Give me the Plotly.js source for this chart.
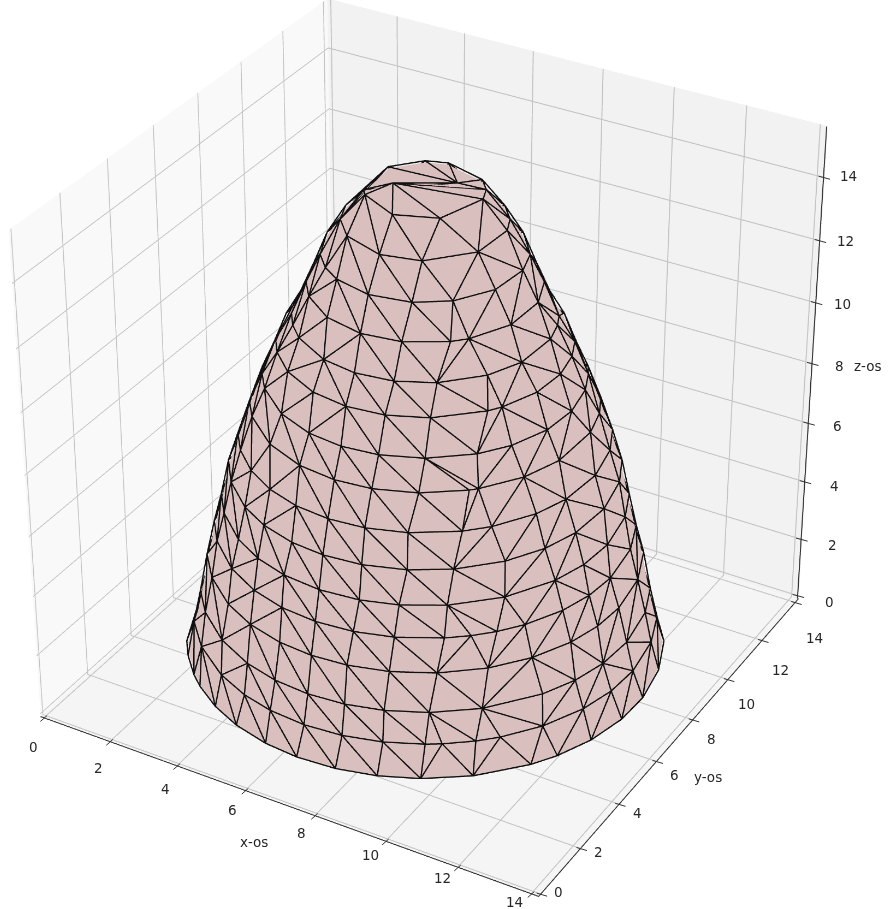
<!DOCTYPE html>
<html><head><meta charset="utf-8">
<script src="https://cdn.plot.ly/plotly-3.0.1.min.js"></script>
<style>html,body{margin:0;padding:0;background:#fff;width:888px;height:909px;overflow:hidden;position:relative}
#chart{position:absolute;left:-1126px;top:-1165px;width:3108px;height:3182px}</style>
</head><body><div id="chart"></div>
<script>
// Surface: one height and radius per ring, with the bearing of its
// vertices in degrees (0 = facing the viewer, positive = to the viewer's right).
const centreX = 7, centreY = 7;
const ringHeights = [0.68,1.68,2.58,3.73,4.71,5.62,6.62,7.62,8.67,9.53,10.55,11.36,12.35,13.35,14.3,15.2,15.4];
const ringRadii   = [6.08,5.88,5.68,5.48,5.27,5.07,4.87,4.61,4.3,3.97,3.62,3.22,2.85,2.5,2.0,1.42,0.73];
const ring00 = [-87,-81,-73,-68,-59,-50,-40,-31,-21,-11,-1,11,25,32,42,53,63,75,87];
const ring01 = [-83,-72,-59,-49,-40,-30,-20,-10,0,4,12,18,29,41,51,61,74,85];
const ring02 = [-85,-75,-62,-50,-40,-30,-20,-10,1,14,30,40,50,61,75,86];
const ring03 = [-86,-75,-62,-51,-40,-30,-20,-9,3,16,28,40,50,60,74,87];
const ring04 = [-88,-78,-64,-52,-41,-30,-19,-8,5,12,19,27,39,49,59,74,86];
const ring05 = [-88,-78,-64,-53,-42,-30,-18,-7,6,22,38,49,61,76,88];
const ring06 = [-90,-78,-64,-53,-41,-30,-18,-5,8,23,36,48,63,78,90];
const ring07 = [-88,-78,-66,-54,-42,-30,-18,-5,11,20,35,47,63,78,90];
const ring08 = [-88,-78,-60,-44,-30,-17,-2,14,17,33,48,68,80,90];
const ring09 = [-88,-78,-60,-44,-30,-16,0,18,31,47,62,77,88];
const ring10 = [-90,-80,-65,-47,-31,-15,2,24,30,47,63,77,88];
const ring11 = [-90,-80,-69,-48,-31,-13,5,27,45,68,80,88];
const ring12 = [-90,-76,-54,-32,-11,12,21,45,70,90];
const ring13 = [-85,-70,-56,-32,-7,15,41,67,85];
const ring14 = [-90,-66,-32,-2,38,74,90];
const ring15 = [-90,-80,-32,14,71,90,110,157,180,218];
const ring16 = [-90,90];
const hiddenBearings = [110,140,170,200,230,250];
const xTicks = [0,2,4,6,8,10,12,14];
const yTicks = [0,2,4,6,8,10,12,14];
const zTicks = [0,2,4,6,8,10,12,14];
const xTitle = 'x-os', yTitle = 'y-os', zTitle = 'z-os';
const xRange=[-0.1,14.2], yRange=[-0.1,14.2], zRange=[-0.1,15.6];

const ringBearings = [ring00,ring01,ring02,ring03,ring04,ring05,ring06,ring07,ring08,ring09,ring10,ring11,ring12,ring13,ring14,ring15,ring16];
const viewBearing = -60;

const vx=[],vy=[],vz=[],ti=[],tj=[],tk=[];
const lx=[],ly=[],lz=[];   // same vertices, nudged off the surface for the edge lines
const rings = ringBearings.map((list,r)=>{
  const all = (r<15) ? list.concat(hiddenBearings) : list.slice();
  return all.map(a=>{
    const t=(a+viewBearing)*Math.PI/180, id=vx.length;
    vx.push(centreX+ringRadii[r]*Math.cos(t));
    vy.push(centreY+ringRadii[r]*Math.sin(t));
    vz.push(ringHeights[r]);
    lx.push(centreX+(ringRadii[r]+0.04)*Math.cos(t));
    ly.push(centreY+(ringRadii[r]+0.04)*Math.sin(t));
    lz.push(ringHeights[r]+0.03);
    return {a,id};
  });
});
const edgeKeys = new Set();
const ex=[],ey=[],ez=[];
function edge(p,q){
  const key=p<q?p+'_'+q:q+'_'+p;
  if(edgeKeys.has(key))return; edgeKeys.add(key);
  ex.push(lx[p],lx[q],null); ey.push(ly[p],ly[q],null); ez.push(lz[p],lz[q],null);
}
function tri(p,q,s){ti.push(p);tj.push(q);tk.push(s);edge(p,q);edge(q,s);edge(s,p);}
for(let r=0;r<rings.length-1;r++){
  const A=rings[r],B=rings[r+1],N=A.length,M=B.length;
  const angA=n=>A[n%N].a+360*Math.floor(n/N), angB=n=>B[n%M].a+360*Math.floor(n/M);
  let i=0,j=0;
  while(i<N||j<M){
    const advA = j>=M || (i<N && angA(i+1)<=angB(j+1));
    if(advA){tri(A[i%N].id,A[(i+1)%N].id,B[j%M].id);i++;}
    else{tri(A[i%N].id,B[(j+1)%M].id,B[j%M].id);j++;}
  }
}
const fontFamily='"DejaVu Sans", sans-serif';
function axis(ticks,bg,range,showLine){return {
  range:range,tickmode:'array',tickvals:ticks,showticklabels:false,title:{text:''},
  showbackground:true,backgroundcolor:bg,gridcolor:'#c4c4c4',gridwidth:2,
  showline:showLine,linecolor:'#333333',linewidth:2,zeroline:false,ticks:'',
  showspikes:false,autorange:false};}
// z axis sits on the far right corner, as in the picture
const zx=xRange[1]-0.02, zy=yRange[1]-0.02;
const traces=[
 {type:'mesh3d',x:vx,y:vy,z:vz,i:ti,j:tj,k:tk,color:'#dabfbf',flatshading:true,hoverinfo:'skip',
  lighting:{ambient:1,diffuse:0,specular:0,roughness:1,fresnel:0},opacity:1},
 {type:'scatter3d',mode:'lines',x:ex,y:ey,z:ez,line:{color:'#101010',width:2.5},hoverinfo:'skip',connectgaps:false},
 {type:'scatter3d',mode:'lines',x:[zx,zx],y:[zy,zy],z:[zRange[0]+0.01,zRange[1]-0.01],line:{color:'#333333',width:2},hoverinfo:'skip'}
];
function note(x,y,z,text,dx,dy){return {x,y,z,text:String(text),showarrow:false,xanchor:'center',yanchor:'middle',
  xshift:dx,yshift:-dy,font:{family:fontFamily,size:13.5,color:'#262626'}};}
function tick(x,y,z,dx,dy,ax,ay){return {x,y,z,text:' ',showarrow:true,arrowhead:0,arrowwidth:1,arrowcolor:'#333333',standoff:0,
  ax,ay,xshift:dx,yshift:-dy,font:{size:1}};}
const annotations=[];
xTicks.forEach(v=>{annotations.push(note(v,yRange[0],zRange[0],v,-10-0.46*v,29-1.5*v));annotations.push(tick(v,yRange[0],zRange[0],3,-2,-8,7));});
yTicks.forEach(v=>{annotations.push(note(xRange[1],v,zRange[0],v,18+0.07*v,-2+2.66*v));annotations.push(tick(xRange[1],v,zRange[0],-4,-1,12,3.5));});
zTicks.forEach(v=>{annotations.push(note(xRange[1],yRange[1],v,v,31-0.53*v,6-0.53*v));annotations.push(tick(xRange[1],yRange[1],v,-6,-1.5,13,3.5));});
annotations.push(note(6.6,yRange[0],zRange[0],xTitle,-12,44));
annotations.push(note(xRange[1],6.8,zRange[0],yTitle,37,32));
annotations.push(note(xRange[1],yRange[1],7.6,zTitle,56,-10));
const k=6.67, dir={x:0.424,y:-0.734,z:0.530};
const layout={width:3108,height:3182,margin:{l:0,r:0,t:0,b:0},paper_bgcolor:'#fff',showlegend:false,
 scene:{domain:{x:[0,1],y:[0,1]},aspectmode:'manual',aspectratio:{x:1,y:1,z:0.98},
  camera:{projection:{type:'perspective'},eye:{x:dir.x*k,y:dir.y*k,z:dir.z*k},center:{x:0,y:0,z:0},up:{x:0,y:0,z:1}},
  xaxis:axis(xTicks,'#f9f9f9',xRange,true),
  yaxis:axis(yTicks,'#f2f2f2',yRange,true),
  zaxis:axis(zTicks,'#f5f5f5',zRange,false),
  annotations}};
Plotly.newPlot('chart',traces,layout,{displayModeBar:false});
</script></body></html>
